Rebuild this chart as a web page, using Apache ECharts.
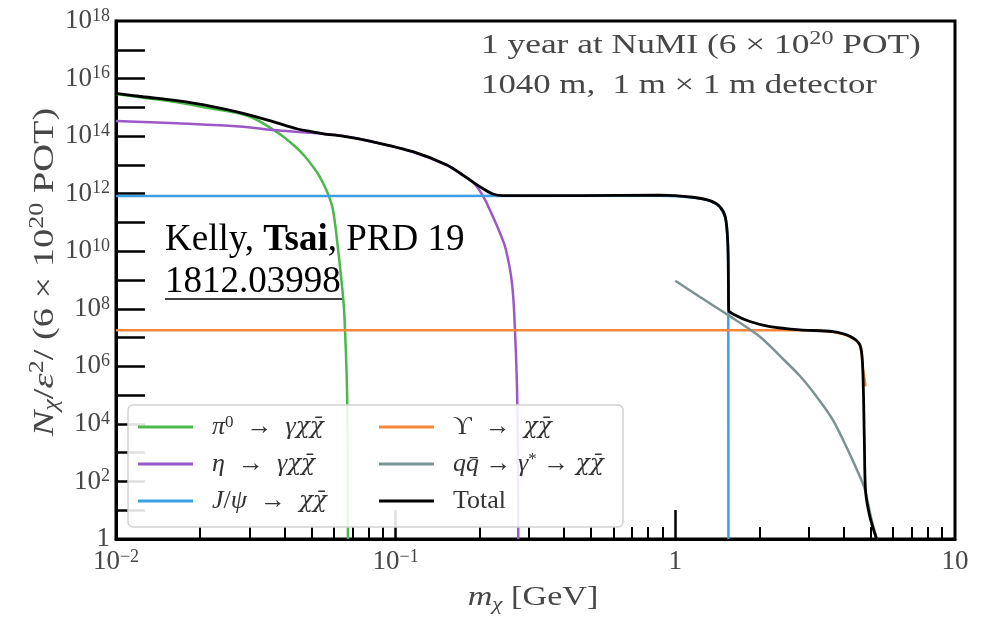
<!DOCTYPE html>
<html>
<head>
<meta charset="utf-8">
<script src="https://cdn.jsdelivr.net/npm/echarts@6.0.0/dist/echarts.min.js"></script>
<style>
  html, body { margin: 0; padding: 0; background: #fff; }
  #chart { width: 984px; height: 618px; }
</style>
</head>
<body>
<div id="chart"></div>
<script>
// Dark-matter yield per production channel vs m_chi (log-log).
const SERIF = '"Liberation Serif", "DejaVu Serif", serif';
const MARK_FONT = '"DejaVu Serif", serif'; // handles χ + combining macron properly
const INK = '#474747';

const PI0_X = [0.01, 0.0125, 0.0165, 0.0217, 0.0285, 0.0327, 0.0364, 0.0396, 0.0443, 0.0474, 0.0507, 0.0528, 0.0551, 0.0568, 0.0582, 0.0597, 0.0617, 0.0650, 0.0659, 0.0671, 0.0675];
const PI0_Y = [2.9e15, 2.16e15, 1.49e15, 9.2e14, 5.62e14, 3.21e14, 1.69e14, 9.67e13, 3.85e13, 1.95e13, 8.43e12, 4.82e12, 2.25e12, 1.19e12, 6.5e11, 2.7e11, 2.45e10, 2.0e8, 1.8e7, 6.8e4, 1];

const ETA_X = [0.01, 0.0165, 0.0285, 0.0364, 0.0494, 0.0648, 0.0809, 0.1153, 0.1526, 0.174, 0.189, 0.2051, 0.2228, 0.236, 0.248, 0.2605, 0.267, 0.2721, 0.2744];
const ETA_Y = [3.34e14, 2.78e14, 2.12e14, 1.63e14, 1.31e14, 1.0e14, 6.6e13, 2.8e13, 9.6e12, 4.3e12, 2.5e12, 8.3e11, 1.58e11, 4.3e10, 1.1e10, 7.9e8, 1.8e7, 6.8e4, 1];

const JPSI_X = [0.01, 0.881, 1.156, 1.329, 1.443, 1.51, 1.54, 1.546, 1.548];
const JPSI_Y = [8.3e11, 8.4e11, 7.4e11, 5.6e11, 3.5e11, 1.5e11, 2e10, 1e9, 1];

const UPS_X = [0.01, 3.0, 3.661, 4.211, 4.571, 4.675, 4.74, 4.79];
const UPS_Y = [1.8e7, 1.8e7, 1.55e7, 1.05e7, 5.3e6, 1.0e6, 4e5, 2e5];

const QQ_X = [1.0, 1.225, 1.546, 2.007, 2.366, 2.79, 3.208, 3.661, 4.108, 4.675, 4.79, 5.0, 5.245];
const QQ_Y = [9.4e8, 2.56e8, 6.0e7, 1.07e7, 2.3e6, 4.6e5, 8.6e4, 1.36e4, 1.45e3, 88, 42, 6, 1];

const TOTAL_X = [0.01, 0.0125, 0.0165, 0.0217, 0.0285, 0.0364, 0.0443, 0.0494, 0.0551, 0.0648, 0.0809, 0.1153, 0.1526, 0.174, 0.2001, 0.2228, 0.2419, 0.456, 0.881, 1.156, 1.329, 1.443, 1.51, 1.54, 1.548, 1.552, 1.607, 1.848, 2.179, 2.79, 3.661, 4.211, 4.571, 4.675, 4.74, 4.79, 4.96, 5.245];
const TOTAL_Y = [3.07e15, 2.33e15, 1.70e15, 1.11e15, 6.2e14, 3.2e14, 1.8e14, 1.45e14, 1.2e14, 1.0e14, 6.7e13, 2.87e13, 9.9e12, 4.4e12, 1.74e12, 9.7e11, 8.5e11, 8.5e11, 8.9e11, 7.5e11, 5.7e11, 3.5e11, 1.5e11, 2e10, 1e9, 9e7, 6.6e7, 3.6e7, 2.4e7, 1.85e7, 1.6e7, 1.1e7, 5.5e6, 9.7e5, 3e3, 45, 6, 1];

const X_MAJOR = [0.01, 0.1, 1, 10];
const X_LONG_TICKS = [0.1, 1];
const X_MINOR = [0.02, 0.03, 0.04, 0.05, 0.06, 0.07, 0.08, 0.09, 0.2, 0.3, 0.4, 0.5, 0.6, 0.7, 0.8, 0.9, 2, 3, 4, 5, 6, 7, 8, 9];
const Y_TICKS = [1e1, 1e2, 1e3, 1e4, 1e5, 1e6, 1e7, 1e8, 1e9, 1e10, 1e11, 1e12, 1e13, 1e14, 1e15, 1e16, 1e17];
// top label nudged just inside the axis extent so it is not filtered out
const Y_LABELS = [1, 1e2, 1e4, 1e6, 1e8, 1e10, 1e12, 1e14, 1e16, 0.99999e18];

const NAMES = ['π0 → γχχ̄', 'η → γχχ̄', 'J/ψ → χχ̄', 'ϒ → χχ̄', 'qq̄ → γ* → χχ̄', 'Total'];
const COLORS = ['#4bb84b', '#9b59c8', '#3aa0e6', '#f7873a', '#7c9292', '#000000'];
const SMOOTH = [0.4, 0.4, 0.2, 0.3, 0.3, 0.3];
const LEGEND_RICH = {
  'π0 → γχχ̄': '{i|π}{s|0}{n|  →  }{i|γ}{c|χχ\u0304}',
  'η → γχχ̄': '{i|η}{n|  →  }{i|γ}{c|χχ\u0304}',
  'J/ψ → χχ̄': '{i|J}{n|/}{i|ψ}{n|  →  }{c|χχ\u0304}',
  'ϒ → χχ̄': '{n|ϒ  →  }{c|χχ\u0304}',
  'qq̄ → γ* → χχ̄': '{i|qq\u0304}{n| → }{i|γ}{s|*}{n| → }{c|χχ\u0304}',
  'Total': '{n|Total}',
};

const zip = (xs, ys) => xs.map((x, i) => [x, ys[i]]);
const SERIES_DATA = [zip(PI0_X, PI0_Y), zip(ETA_X, ETA_Y), zip(JPSI_X, JPSI_Y), zip(UPS_X, UPS_Y), zip(QQ_X, QQ_Y), zip(TOTAL_X, TOTAL_Y)];

function powLabel(v) {
  const p = Math.round(Math.log10(v));
  if (p === 0) return '{b|1}';
  if (p === 1) return '{b|10}';
  return '{b|10}{s|' + String(p).replace('-', '\u2212') + '}';
}

const tickRich = {
  b: { fontFamily: SERIF, fontSize: 27, lineHeight: 28, color: INK },
  s: { fontFamily: SERIF, fontSize: 18, lineHeight: 16, verticalAlign: 'top', color: INK },
};
const legendRich = {
  n: { fontFamily: SERIF, fontSize: 26, lineHeight: 25, color: '#333' },
  i: { fontFamily: SERIF, fontSize: 26, lineHeight: 25, fontStyle: 'italic', color: '#333' },
  c: { fontFamily: MARK_FONT, fontSize: 23, lineHeight: 25, fontStyle: 'italic', color: '#333' },
  s: { fontFamily: SERIF, fontSize: 17, lineHeight: 10, verticalAlign: 'top', color: '#333' },
};
const labelRich = (size) => ({
  n: { fontFamily: SERIF, fontSize: size, lineHeight: size + 4, fill: INK },
  i: { fontFamily: SERIF, fontSize: size, lineHeight: size + 4, fontStyle: 'italic', fill: INK },
  sb: { fontFamily: SERIF, fontSize: size * 0.68, lineHeight: size * 0.62, verticalAlign: 'bottom', fontStyle: 'italic', fill: INK },
  s: { fontFamily: SERIF, fontSize: size * 0.68, lineHeight: size * 0.3, verticalAlign: 'top', fill: INK },
});

const legendBase = {
  orient: 'vertical', top: 414, padding: 0, itemWidth: 55, itemHeight: 3, itemGap: 11,
  icon: 'rect', selectedMode: false, z: 20,
  textStyle: { padding: [0, 0, 0, 14], rich: legendRich },
  formatter: (name) => LEGEND_RICH[name],
};

const blackLine = { color: '#000', width: 3 };
const chart = echarts.init(document.getElementById('chart'), null, { renderer: 'canvas' });
chart.setOption({
  animation: false,
  grid: { left: 116, right: 29, top: 21, bottom: 79, show: true, borderColor: '#000', borderWidth: 3, containLabel: false, outerBoundsMode: 'none' },
  xAxis: [
    {
      type: 'log', logBase: 10, min: 0.01, max: 10, position: 'bottom',
      axisLine: { lineStyle: blackLine },
      axisTick: { inside: true, length: 12, customValues: X_MINOR, lineStyle: { color: '#000', width: 2 } },
      axisLabel: { customValues: X_MAJOR, margin: 9, formatter: powLabel, rich: tickRich },
      splitLine: { show: false },
    },
    {
      type: 'log', logBase: 10, min: 0.01, max: 10, position: 'bottom',
      axisLine: { show: false },
      axisTick: { inside: true, length: 29, customValues: X_LONG_TICKS, lineStyle: { color: '#000', width: 2.5 } },
      axisLabel: { show: false },
      splitLine: { show: false },
    },
  ],
  yAxis: {
    type: 'log', logBase: 10, min: 1, max: 1e18,
    axisLine: { lineStyle: blackLine },
    axisTick: { inside: true, length: 29, customValues: Y_TICKS, lineStyle: { color: '#000', width: 2.5 } },
    axisLabel: { customValues: Y_LABELS, margin: 6, formatter: powLabel, rich: tickRich },
    splitLine: { show: false },
  },
  legend: [
    { ...legendBase, left: 138, data: NAMES.slice(0, 3) },
    { ...legendBase, left: 379, data: NAMES.slice(3) },
  ],
  graphic: [
    {
      type: 'rect', z: 10, silent: true,
      shape: { x: 128, y: 405, width: 495, height: 122, r: 5 },
      style: { fill: 'rgba(255,255,255,0.88)', stroke: '#d2d2d2', lineWidth: 1.5 },
    },
    // axis titles (stretched along the text to match the wide math font of the original)
    {
      type: 'text', x: 533, y: 598, scaleX: 1.22, z: 10, silent: true,
      style: { text: '{i|m}{sb|χ}{n| [GeV]}', rich: labelRich(28), align: 'center', verticalAlign: 'middle' },
    },
    {
      type: 'text', x: 45, y: 272, rotation: Math.PI / 2, scaleX: 1.28, z: 10, silent: true,
      style: {
        text: '{i|N}{sb|χ}{n|/}{i|ε}{s|2}{n|/ (6 × 10}{s|20}{n| POT)}',
        rich: labelRich(30), align: 'center', verticalAlign: 'middle',
      },
    },
    {
      type: 'text', x: 481, y: 46, scaleX: 1.31, z: 10, silent: true,
      style: { text: '{n|1 year at NuMI (6 × 10}{s|20}{n| POT)}', rich: labelRich(27), verticalAlign: 'middle' },
    },
    {
      type: 'text', x: 481, y: 86, scaleX: 1.29, z: 10, silent: true,
      style: { text: '{n|1040 m,  1 m × 1 m detector}', rich: labelRich(27), verticalAlign: 'middle' },
    },
    {
      type: 'text', x: 165, y: 240, z: 10, silent: true,
      style: {
        text: '{n|Kelly, }{b|Tsai}{n|, PRD 19}', verticalAlign: 'middle',
        rich: {
          n: { fontFamily: SERIF, fontSize: 37, fill: '#000' },
          b: { fontFamily: SERIF, fontSize: 37, fontWeight: 'bold', fill: '#000' },
        },
      },
    },
    {
      type: 'text', x: 165, y: 282, z: 10, silent: true,
      style: { text: '1812.03998', fontFamily: SERIF, fontSize: 37, fill: '#000', verticalAlign: 'middle' },
    },
    {
      type: 'line', z: 10, silent: true,
      shape: { x1: 165, y1: 299, x2: 342, y2: 299 },
      style: { stroke: '#000', lineWidth: 1.5 },
    },
  ],
  series: SERIES_DATA.map((data, i) => ({
    name: NAMES[i], type: 'line', data, showSymbol: false, smooth: SMOOTH[i],
    lineStyle: { color: COLORS[i], width: i === 5 ? 2.8 : 2.5 },
    itemStyle: { color: COLORS[i] },
    z: 2 + i,
  })),
});
</script>
</body>
</html>
